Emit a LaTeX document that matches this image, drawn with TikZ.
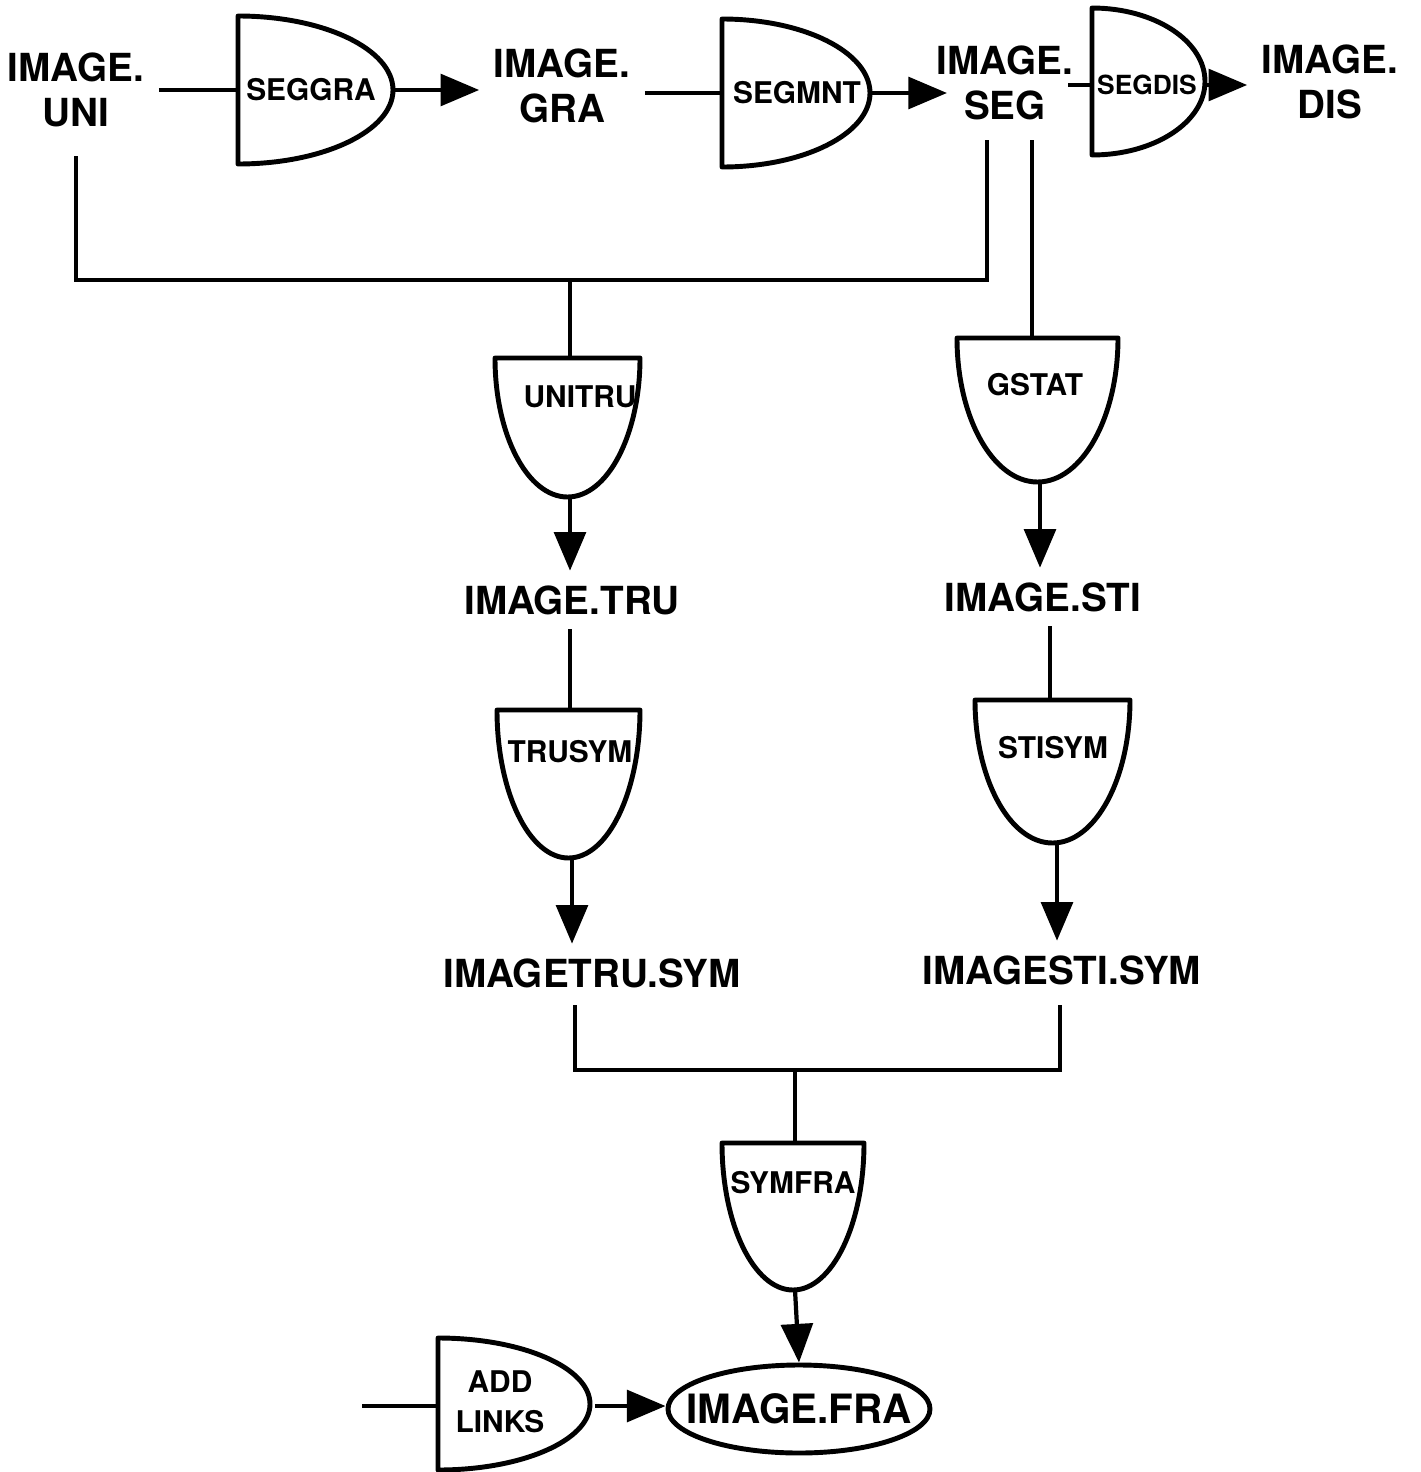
\documentclass[tikz,border=0pt]{standalone}
\usepackage{fontspec}
\setmainfont{TeX Gyre Heros}
\usetikzlibrary{arrows.meta,shapes.geometric}
\tikzset{
	link/.style = {line width=1.2pt},
	flow/.style = {line width=1.2pt, -{Triangle[length=11pt,width=9pt]}},
	gate/.style = {line width=1.4pt, line join=round},
	gatename/.style = {font=\fontsize{8.5}{10}\selectfont\bfseries, inner sep=1pt},
	file/.style = {font=\fontsize{11}{13}\selectfont\bfseries, align=center, inner sep=4pt}
}
\begin{document}
\begin{tikzpicture}
	\useasboundingbox (0,0) rectangle (14.21,-14.72);
	% top row of files
	\node[file] (uni) at (0.76,-0.90) {IMAGE.\\UNI};
	\node[file] (gra) at (5.62,-0.86) {IMAGE.\\GRA};
	\node[file] (seg) at (10.05,-0.83) {IMAGE.\\SEG};
	\node[file] (dis) at (13.30,-0.82) {IMAGE.\\DIS};
	% top row of gates
	\draw[gate] (2.38,-0.16) arc[start angle=90, end angle=-90, x radius=1.55, y radius=0.74] -- cycle;
	\node[gatename] (seggra) at (3.11,-0.90) {SEGGRA};
	\coordinate (seggra-in) at (2.38,-0.90);
	\coordinate (seggra-out) at (3.93,-0.90);
	\draw[gate] (7.22,-0.19) arc[start angle=90, end angle=-90, x radius=1.48, y radius=0.74] -- cycle;
	\node[gatename] (segmnt) at (7.97,-0.93) {SEGMNT};
	\coordinate (segmnt-in) at (7.22,-0.93);
	\coordinate (segmnt-out) at (8.70,-0.93);
	\coordinate (seg-in) at (9.47,-0.93);
	\draw[gate] (10.92,-0.08) arc[start angle=90, end angle=-90, x radius=1.13, y radius=0.735] -- cycle;
	\node[gatename, font=\fontsize{7.5}{9}\selectfont\bfseries] (segdis) at (11.47,-0.85) {SEGDIS};
	\coordinate (segdis-in) at (10.92,-0.85);
	\coordinate (segdis-out) at (12.05,-0.85);
	\coordinate (seg-out) at (10.68,-0.85);
	\draw[link] (uni.east) -- (seggra-in);
	\draw[flow] (seggra-out) -- (seggra-out -| gra.west);
	\draw[link] (gra.east |- segmnt-in) -- (segmnt-in);
	\draw[flow] (segmnt-out) -- (seg-in);
	\draw[link] (seg-out) -- (segdis-in);
	\draw[flow] (segdis-out) -- (segdis-out -| dis.west);
	% left column
	\coordinate (seg-a) at (9.87,-1.40);
	\coordinate (seg-b) at (10.32,-1.40);
	\coordinate (merge1) at (5.70,-2.80);
	\draw[gate] (4.95,-3.58) arc[start angle=180, end angle=360, x radius=0.725, y radius=1.39] -- cycle;
	\node[gatename] (unitru) at (5.80,-3.97) {UNITRU};
	\coordinate (unitru-in) at (5.70,-3.58);
	\coordinate (unitru-out) at (5.70,-4.97);
	\node[file] (tru) at (5.72,-6.00) {IMAGE.TRU};
	\draw[gate] (4.97,-7.10) arc[start angle=180, end angle=360, x radius=0.715, y radius=1.48] -- cycle;
	\node[gatename] (trusym) at (5.70,-7.52) {TRUSYM};
	\coordinate (trusym-in) at (5.70,-7.10);
	\coordinate (trusym-out) at (5.72,-8.58);
	\node[file] (trufile) at (5.92,-9.73) {IMAGETRU.SYM};
	\draw[link, shorten <=4pt] (uni.south) |- (merge1) -| (seg-a);
	\draw[link] (merge1) -- (unitru-in);
	\draw[flow] (unitru-out) -- (unitru-out |- tru.north);
	\draw[link] (tru.south -| trusym-in) -- (trusym-in);
	\draw[flow] (trusym-out) -- (trusym-out |- trufile.north);
	% right column
	\draw[gate] (9.57,-3.38) arc[start angle=180, end angle=360, x radius=0.805, y radius=1.44] -- cycle;
	\node[gatename] (gstat) at (10.35,-3.85) {GSTAT};
	\coordinate (gstat-in) at (10.32,-3.38);
	\coordinate (gstat-out) at (10.40,-4.82);
	\node[file] (sti) at (10.43,-5.97) {IMAGE.STI};
	\draw[gate] (9.75,-7.00) arc[start angle=180, end angle=360, x radius=0.775, y radius=1.43] -- cycle;
	\node[gatename] (stisym) at (10.53,-7.48) {STISYM};
	\coordinate (stisym-in) at (10.50,-7.00);
	\coordinate (stisym-out) at (10.57,-8.43);
	\node[file] (stifile) at (10.62,-9.70) {IMAGESTI.SYM};
	\draw[link] (seg-b) -- (gstat-in);
	\draw[flow] (gstat-out) -- (gstat-out |- sti.north);
	\draw[link] (sti.south -| stisym-in) -- (stisym-in);
	\draw[flow] (stisym-out) -- (stisym-out |- stifile.north);
	% merge into frame file
	\coordinate (trufile-out) at (5.75,-10.05);
	\coordinate (stifile-out) at (10.60,-10.05);
	\coordinate (merge2) at (7.95,-10.70);
	\draw[gate] (7.22,-11.43) arc[start angle=180, end angle=360, x radius=0.71, y radius=1.47] -- cycle;
	\node[gatename] (symfra) at (7.93,-11.83) {SYMFRA};
	\coordinate (symfra-in) at (7.95,-11.43);
	\coordinate (symfra-out) at (7.95,-12.90);
	\node[draw, ellipse, line width=1.4pt, inner sep=0pt, minimum width=2.62cm, minimum height=0.88cm] (fra) at (7.99,-14.09) {};
	\node[font=\fontsize{11.5}{13}\selectfont\bfseries, inner sep=0pt] (fratext) at (fra.center) {IMAGE.FRA};
	\draw[link] (trufile-out) |- (merge2) -| (stifile-out);
	\draw[link] (merge2) -- (symfra-in);
	\draw[flow] (symfra-out) -- (fra.north);
	% add links
	\draw[gate] (4.38,-13.38) arc[start angle=90, end angle=-90, x radius=1.52, y radius=0.66] -- cycle;
	\node[gatename, align=center, font=\fontsize{8.5}{11.5}\selectfont\bfseries] (addlinks) at (5.00,-14.02) {ADD\\LINKS};
	\coordinate (addlinks-in) at (4.38,-14.06);
	\coordinate (addlinks-out) at (5.95,-14.06);
	\coordinate (links-src) at (3.62,-14.06);
	\draw[link] (links-src) -- (addlinks-in);
	\draw[flow] (addlinks-out) -- (addlinks-out -| fra.west);
\end{tikzpicture}
\end{document}
